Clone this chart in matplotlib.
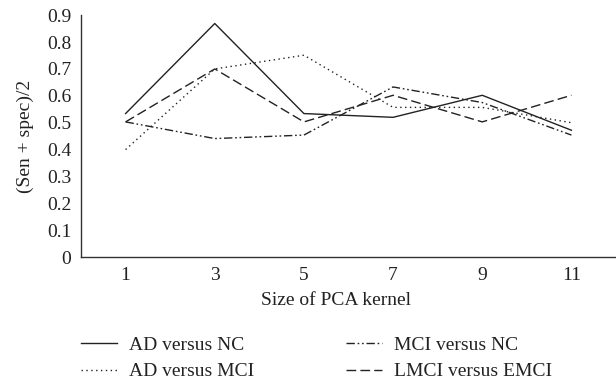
import numpy as np
import matplotlib.pyplot as plt

plt.rcParams['font.family'] = ['Liberation Serif', 'DejaVu Serif']

kernels = ['1', '3', '5', '7', '9', '11']
ad_nc = [0.534, 0.869, 0.534, 0.52, 0.602, 0.472]
ad_mci = [0.40, 0.70, 0.751, 0.557, 0.557, 0.50]
mci_nc = [0.503, 0.441, 0.454, 0.633, 0.575, 0.454]
lmci_emci = [0.503, 0.70, 0.503, 0.602, 0.503, 0.602]

fig = plt.figure(figsize=(6.16, 3.89), dpi=100)
ax = fig.add_axes([0.1315, 0.339, 0.8685, 0.622])

x = np.arange(len(kernels))
c = '#222222'
ax.plot(x, ad_nc, color=c, lw=1.0, label='AD versus NC')
ax.plot(x, ad_mci, color=c, lw=1.0, linestyle=(0, (1, 2.5)), label='AD versus MCI')
ax.plot(x, mci_nc, color=c, lw=1.0, linestyle=(0, (6, 2, 1.2, 2, 1.2, 2)), label='MCI versus NC')
ax.plot(x, lmci_emci, color=c, lw=1.0, linestyle=(0, (7, 3)), label='LMCI versus EMCI')

ax.set_xlim(-0.5, len(kernels) - 0.5)
ax.set_ylim(0, 0.9)
ax.set_xticks(x)
ax.set_xticklabels(kernels)
ax.set_yticks(np.arange(0, 0.91, 0.1))
ax.set_yticklabels(['0'] + ['%.1f' % v for v in np.arange(0.1, 0.91, 0.1)])
ax.tick_params(length=0, labelsize=14, colors='#222222', pad=7)
for s in ['top', 'right']:
    ax.spines[s].set_visible(False)
for s in ['left', 'bottom']:
    ax.spines[s].set_color('#333333')
    ax.spines[s].set_linewidth(1.0)

ax.set_ylabel('(Sen + spec)/2', fontsize=14, color='#222222', labelpad=9)
ax.set_xlabel('Size of PCA kernel', fontsize=14, color='#222222', labelpad=6, x=0.477)

fig.legend(loc='upper left', bbox_to_anchor=(81 / 616, 0.135), ncol=2, frameon=False,
           fontsize=14, handlelength=1.86, handletextpad=0.62, columnspacing=4.7,
           labelspacing=0.45, borderpad=0, borderaxespad=0, labelcolor='#222222')

fig.savefig('out.png', dpi=100)
